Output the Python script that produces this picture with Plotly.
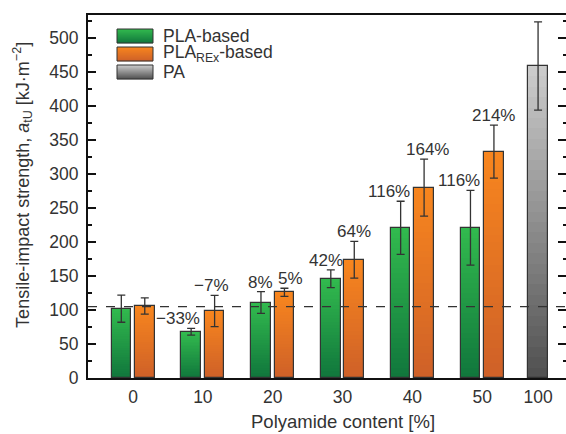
import plotly.graph_objects as go

# ---------------- data ----------------
categories = ["0", "10", "20", "30", "40", "50", "100"]
cat_pos = [0, 1, 2, 3, 4, 5, 5.8]          # position of each category on the axis

pla_values = [102, 68, 111, 146, 221, 221]
pla_errors = [20, 5, 16, 13, 39, 55]
rex_values = [106, 98.5, 126, 174, 280, 333]
rex_errors = [12, 23, 6, 27, 42, 39]
pa_values = [459]
pa_errors = [65]

pla_labels = ["", "−33%", "8%", "42%", "116%", "116%"]
rex_labels = ["", "−7%", "5%", "64%", "164%", "214%"]
reference_value = 105

# ---------------- style ----------------
FONT = "Liberation Sans, Arial, sans-serif"
TXT = "#333333"
EDGE = "#333333"
BAR_W = 0.28
OFF = 0.168
N_SEG = 30
pla_shift = [0, -13, 0, -5, -12, -11]
rex_shift = [0, -3, 6, 0, 3, 0]

green_grad = ((16, 118, 60), (50, 186, 78))     # bottom, top
orange_grad = ((206, 96, 40), (248, 134, 30))
gray_grad = ((80, 80, 80), (205, 205, 205))


def mix(c0, c1, t):
    return "rgb(%d,%d,%d)" % tuple(round(a + (b - a) * t) for a, b in zip(c0, c1))


fig = go.Figure()


def gradient_bars(xs, vals, errs, grad, name):
    for k in range(N_SEG):
        t = (k + 0.5) / N_SEG
        fig.add_trace(go.Bar(
            x=xs, y=[v / N_SEG for v in vals], base=[v * k / N_SEG for v in vals],
            width=BAR_W, marker=dict(color=mix(grad[0], grad[1], t), line=dict(width=0)),
            showlegend=False, hoverinfo="skip"))
    fig.add_trace(go.Bar(
        x=xs, y=vals, width=BAR_W, name=name, showlegend=False,
        marker=dict(color="rgba(0,0,0,0)", line=dict(color=EDGE, width=1.2)),
        error_y=dict(type="data", array=errs, visible=True, color=EDGE,
                     thickness=1.3, width=4)))


n = len(pla_values)
pla_x = [p - OFF for p in cat_pos[:n]]
rex_x = [p + OFF for p in cat_pos[:n]]
pa_x = cat_pos[n:]

gradient_bars(pla_x, pla_values, pla_errors, green_grad, "PLA-based")
gradient_bars(rex_x, rex_values, rex_errors, orange_grad, "PLA<sub>REx</sub>-based")
gradient_bars(pa_x, pa_values, pa_errors, gray_grad, "PA")

# invisible trace for right-hand tick axis
fig.add_trace(go.Scatter(x=[cat_pos[0]], y=[0], yaxis="y2", mode="markers",
                         marker=dict(opacity=0), showlegend=False, hoverinfo="skip"))

annotations = []
for xs, vals, errs, labels, shifts in ((pla_x, pla_values, pla_errors, pla_labels, pla_shift),
                                       (rex_x, rex_values, rex_errors, rex_labels, rex_shift)):
    for x, v, e, lab, s in zip(xs, vals, errs, labels, shifts):
        if lab:
            annotations.append(dict(x=x, y=v + e, text=lab, showarrow=False, xanchor="center",
                                    yanchor="bottom", xshift=s, yshift=-2,
                                    font=dict(family=FONT, size=17, color=TXT)))

# axis titles
annotations.append(dict(xref="paper", yref="paper", x=0.533, y=-0.12,
                        xanchor="center", yanchor="middle",
                        text="Polyamide content [%]", showarrow=False,
                        font=dict(family=FONT, size=18.5, color=TXT)))
annotations.append(dict(xref="paper", yref="paper", x=-0.136, y=0.532, textangle=-90,
                        xanchor="center", yanchor="middle",
                        text="Tensile-impact strength, <i>a</i><sub>tU</sub> [kJ·m<sup>−2</sup>]",
                        showarrow=False, font=dict(family=FONT, size=18, color=TXT)))

# manual legend with gradient swatches
PL, PR, PT, PB = 88, 566, 15, 378
def px_x(px): return (px - PL) / (PR - PL)
def px_y(py): return (PB - py) / (PB - PT)

shapes = []
legend_items = [("PLA-based", green_grad), ("PLA<sub>REx</sub>-based", orange_grad), ("PA", gray_grad)]
for i, (label, grad) in enumerate(legend_items):
    top = 29 + 18 * i
    nst = 14
    h = 14 / nst
    for k in range(nst):
        y0 = top + k * h
        t = 1 - (k + 0.5) / nst
        shapes.append(dict(type="rect", xref="paper", yref="paper",
                           x0=px_x(117), x1=px_x(153), y0=px_y(y0 + h + 0.3), y1=px_y(y0),
                           fillcolor=mix(grad[0], grad[1], t), line=dict(width=0), layer="above"))
    shapes.append(dict(type="rect", xref="paper", yref="paper",
                       x0=px_x(117), x1=px_x(153), y0=px_y(top + 14), y1=px_y(top),
                       fillcolor="rgba(0,0,0,0)", line=dict(color=EDGE, width=1), layer="above"))
    annotations.append(dict(xref="paper", yref="paper", x=px_x(161), y=px_y(top + 7),
                            xanchor="left", yanchor="middle", text=label, showarrow=False,
                            font=dict(family=FONT, size=17.5, color=TXT)))

# dashed reference line
shapes.append(dict(type="line", xref="paper", yref="y", x0=0, x1=1,
                   y0=reference_value, y1=reference_value,
                   line=dict(color=EDGE, width=1.3, dash="dash"), layer="above"))

YR = [0, 534]
fig.update_layout(
    width=566, height=434,
    margin=dict(l=PL, r=566 - PR, t=PT, b=434 - PB),
    paper_bgcolor="white", plot_bgcolor="white",
    barmode="overlay", bargap=0,
    showlegend=False,
    font=dict(family=FONT, size=17, color=TXT),
    xaxis=dict(range=[-0.645, 6.2], tickvals=cat_pos, ticktext=categories,
               showline=True, linecolor="#111111", linewidth=2, mirror=True,
               ticks="", showgrid=False, zeroline=False, ticklabelstandoff=2,
               tickfont=dict(family=FONT, size=17.5, color=TXT)),
    yaxis=dict(range=YR, dtick=50, tick0=0, showline=True, linecolor="#111111", linewidth=2,
               ticks="inside", ticklen=8, tickwidth=2, tickcolor="#111111",
               minor=dict(ticks="inside", ticklen=4, tickwidth=1.5, dtick=25, tickcolor="#111111"),
               showgrid=False, zeroline=False, ticklabelstandoff=4,
               tickfont=dict(family=FONT, size=17.5, color=TXT)),
    yaxis2=dict(range=YR, overlaying="y", side="right", dtick=50, tick0=0,
                showline=False, showticklabels=False, showgrid=False, zeroline=False,
                ticks="inside", ticklen=8, tickwidth=2, tickcolor="#111111",
                minor=dict(ticks="inside", ticklen=3, tickwidth=1.5, dtick=25, tickcolor="#111111")),
    shapes=shapes, annotations=annotations,
)

fig.write_html("out.html", config={"displayModeBar": False},
               post_script="document.body.style.margin='0';document.body.style.overflow='hidden';")
